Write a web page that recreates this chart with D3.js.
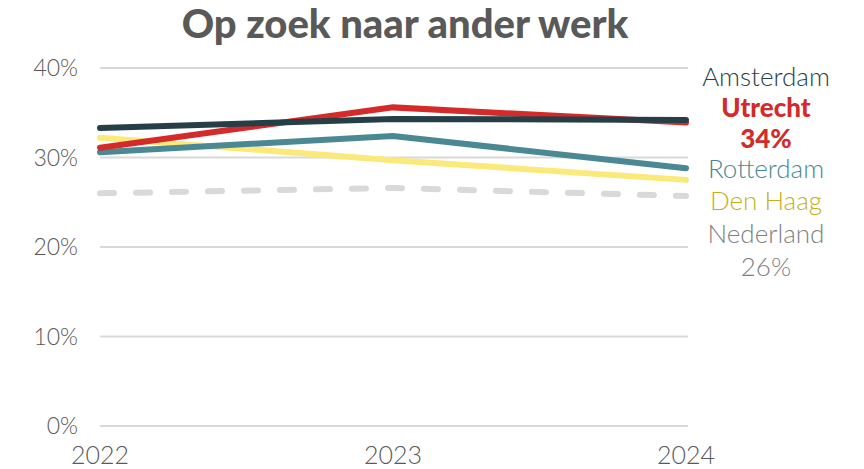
<!DOCTYPE html>
<html>
<head>
<meta charset="UTF-8">
<title>Op zoek naar ander werk</title>
<script src="https://cdn.jsdelivr.net/npm/d3@7"></script>
<style>
    body { margin: 0; background: #fff; }
    svg { display: block; font-family: Lato, "Open Sans", sans-serif; }
</style>
</head>
<body>
<svg id="chart" width="864" height="469"></svg>
<script>

// data
const years = ["2022", "2023", "2024"];
const amsterdam = [33.3, 34.3, 34.2];
const utrecht = [31.1, 35.6, 33.9];
const rotterdam = [30.6, 32.4, 28.8];
const denHaag = [32.2, 29.7, 27.5];
const nederland = [26.0, 26.6, 25.7];
const yTicks = [0, 10, 20, 30, 40];

const series = [
    {name: "Nederland", values: nederland, color: "#d9d9d9", dash: "14,22"},
    {name: "Den Haag", values: denHaag, color: "#fbe97a"},
    {name: "Rotterdam", values: rotterdam, color: "#4a8893"},
    {name: "Utrecht", values: utrecht, color: "#d42a2a"},
    {name: "Amsterdam", values: amsterdam, color: "#263f47"}
];

const svg = d3.select("#chart");

const x = d3.scalePoint().domain(years).range([100, 686]);
const y = d3.scaleLinear().domain([0, 40]).range([426, 68]);

svg.append("text")
    .attr("x", 405).attr("y", 38)
    .attr("text-anchor", "middle")
    .attr("font-size", 40).attr("font-weight", 900)
    .attr("fill", "#595959")
    .text("Op zoek naar ander werk");

// gridlines
svg.append("g").selectAll("line")
    .data(yTicks).enter().append("line")
    .attr("x1", 100).attr("x2", 688)
    .attr("y1", d => y(d)).attr("y2", d => y(d))
    .attr("stroke", "#d9d9d9").attr("stroke-width", 2);

svg.append("g").selectAll("text")
    .data(yTicks).enter().append("text")
    .attr("x", 78).attr("y", d => y(d))
    .attr("dy", "0.35em")
    .attr("text-anchor", "end")
    .attr("font-size", 23).attr("font-weight", 300)
    .attr("fill", "#595959")
    .text(d => d + "%");

svg.append("g").selectAll("text")
    .data(years).enter().append("text")
    .attr("x", d => x(d)).attr("y", 464)
    .attr("text-anchor", "middle")
    .attr("font-size", 25).attr("font-weight", 300)
    .attr("fill", "#595959")
    .text(d => d);

let line = d3.line()
    .x((d, i) => x(years[i]))
    .y(d => y(d));

svg.append("g").selectAll("path")
    .data(series).enter().append("path")
    .attr("d", d => line(d.values))
    .attr("fill", "none")
    .attr("stroke", d => d.color)
    .attr("stroke-width", 6)
    .attr("stroke-linecap", "round")
    .attr("stroke-dasharray", d => d.dash || null);

// labels on the right
const labels = [
    {text: "Amsterdam", y: 77, color: "#263f47", bold: false},
    {text: "Utrecht", y: 108, color: "#d42a2a", bold: true},
    {text: "34%", y: 139, color: "#d42a2a", bold: true},
    {text: "Rotterdam", y: 169, color: "#4a8893", bold: false},
    {text: "Den Haag", y: 201, color: "#c4b01c", bold: false},
    {text: "Nederland", y: 234, color: "#7f7f7f", bold: false},
    {text: "26%", y: 267, color: "#7f7f7f", bold: false}
];

svg.append("g").selectAll("text")
    .data(labels).enter().append("text")
    .attr("x", 766).attr("y", d => d.y)
    .attr("dy", "0.35em")
    .attr("text-anchor", "middle")
    .attr("font-size", 26)
    .attr("font-weight", d => d.bold ? 900 : 300)
    .attr("fill", d => d.color)
    .text(d => d.text);

</script>
</body>
</html>
